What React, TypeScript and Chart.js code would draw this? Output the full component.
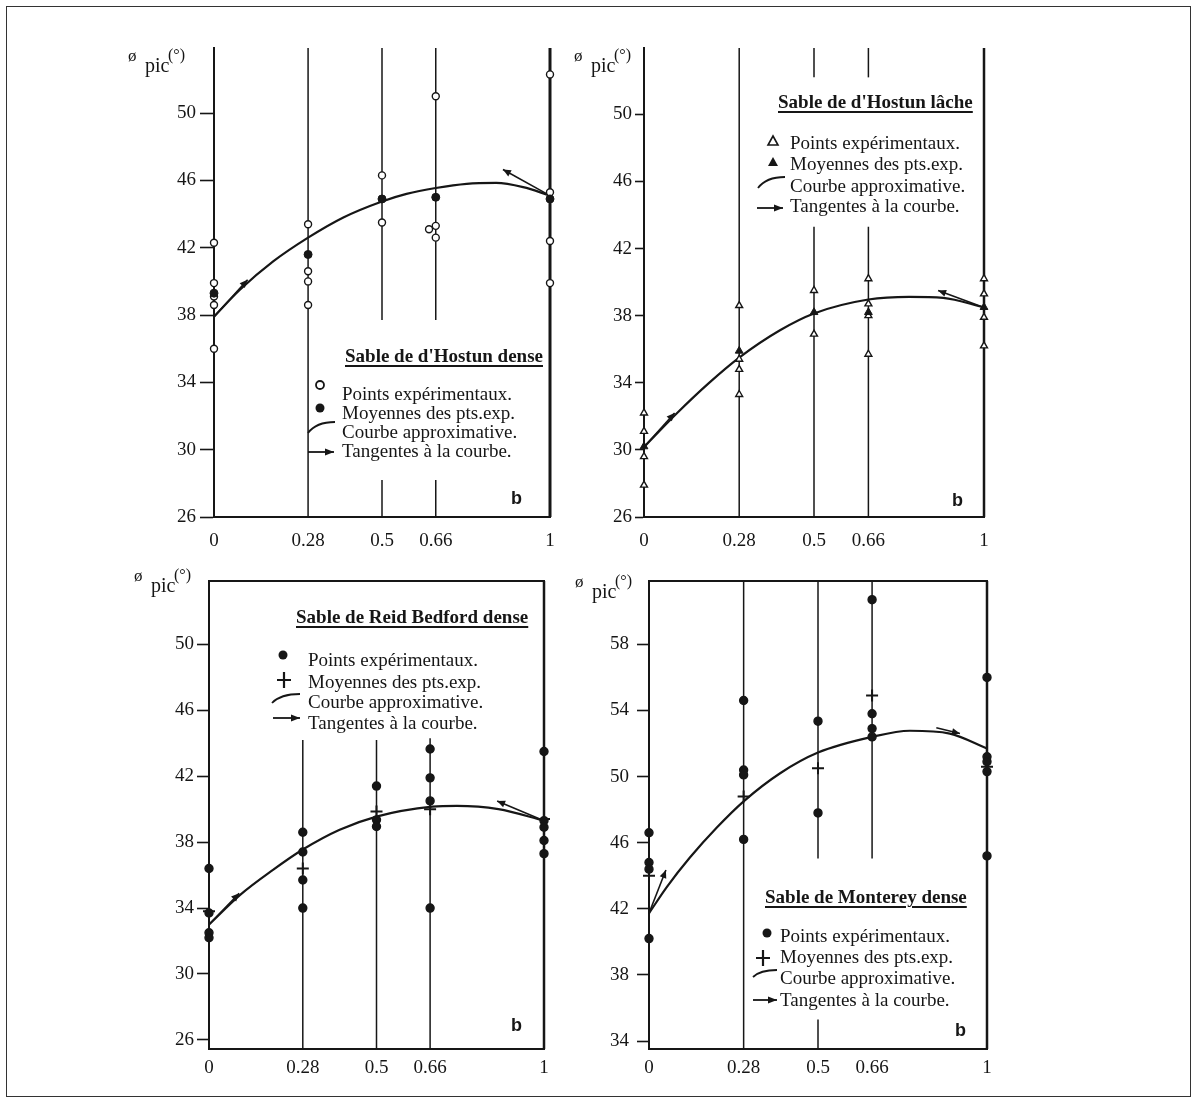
import React, { useEffect, useRef } from "react";
import { Chart, registerables } from "chart.js";

Chart.register(...registerables);

type Pt = { x: number; y: number };

// ---------- shared axis data ----------
const bTicks = [0, 0.28, 0.5, 0.66, 1];
const yTicks26 = [26, 30, 34, 38, 42, 46, 50];
const yTicks34 = [34, 38, 42, 46, 50, 54, 58];
const legendItems = [
  "Points expérimentaux.",
  "Moyennes des pts.exp.",
  "Courbe approximative.",
  "Tangentes à la courbe.",
];

// ---------- Panel 1 : Sable de d'Hostun dense ----------
const hdTitle = "Sable de d'Hostun dense";
const hdExp: Pt[] = [
  { x: 0, y: 42.3 }, { x: 0, y: 39.9 }, { x: 0, y: 39.1 }, { x: 0, y: 38.6 }, { x: 0, y: 36.0 },
  { x: 0.28, y: 43.4 }, { x: 0.28, y: 40.6 }, { x: 0.28, y: 40.0 }, { x: 0.28, y: 38.6 },
  { x: 0.5, y: 46.3 }, { x: 0.5, y: 43.5 },
  { x: 0.66, y: 51.0 }, { x: 0.64, y: 43.1 }, { x: 0.66, y: 43.3 }, { x: 0.66, y: 42.6 },
  { x: 1, y: 52.3 }, { x: 1, y: 45.3 }, { x: 1, y: 42.4 }, { x: 1, y: 39.9 },
];
const hdMean: Pt[] = [
  { x: 0, y: 39.3 }, { x: 0.28, y: 41.6 }, { x: 0.5, y: 44.9 }, { x: 0.66, y: 45.0 }, { x: 1, y: 44.9 },
];
const hdCurve: Pt[] = [
  { x: 0, y: 37.9 }, { x: 0.077, y: 39.5 }, { x: 0.177, y: 41.2 }, { x: 0.28, y: 42.6 },
  { x: 0.385, y: 43.8 }, { x: 0.5, y: 44.75 }, { x: 0.573, y: 45.2 }, { x: 0.66, y: 45.55 },
  { x: 0.752, y: 45.8 }, { x: 0.84, y: 45.85 }, { x: 0.92, y: 45.6 }, { x: 1, y: 45.1 },
];
const hdTangents: Pt[][] = [
  [{ x: 0, y: 37.9 }, { x: 0.1, y: 40.1 }],
  [{ x: 1, y: 45.1 }, { x: 0.86, y: 46.65 }],
];
// [b, from, to]
const hdGuides = [
  [0.28, 26, 53.87], [0.5, 37.7, 53.87], [0.5, 26, 28.2],
  [0.66, 37.7, 53.87], [0.66, 26, 28.2], [1, 26, 53.87],
];

// ---------- Panel 2 : Sable de d'Hostun lâche ----------
const hlTitle = "Sable de d'Hostun lâche";
const hlExp: Pt[] = [
  { x: 0, y: 32.2 }, { x: 0, y: 31.1 }, { x: 0, y: 29.6 }, { x: 0, y: 27.9 },
  { x: 0.28, y: 38.6 }, { x: 0.28, y: 35.4 }, { x: 0.28, y: 34.8 }, { x: 0.28, y: 33.3 },
  { x: 0.5, y: 39.5 }, { x: 0.5, y: 36.9 },
  { x: 0.66, y: 40.2 }, { x: 0.66, y: 38.7 }, { x: 0.66, y: 38.0 }, { x: 0.66, y: 35.7 },
  { x: 1, y: 40.2 }, { x: 1, y: 39.3 }, { x: 1, y: 37.9 }, { x: 1, y: 36.2 },
];
const hlMean: Pt[] = [
  { x: 0, y: 30.2 }, { x: 0.28, y: 35.9 }, { x: 0.5, y: 38.2 }, { x: 0.66, y: 38.2 }, { x: 1, y: 38.5 },
];
const hlCurve: Pt[] = [
  { x: 0, y: 30.17 }, { x: 0.096, y: 32.17 }, { x: 0.189, y: 33.95 }, { x: 0.28, y: 35.5 },
  { x: 0.4, y: 37.13 }, { x: 0.5, y: 38.13 }, { x: 0.66, y: 38.96 }, { x: 0.78, y: 39.12 },
  { x: 0.88, y: 39.06 }, { x: 1, y: 38.49 },
];
const hlTangents: Pt[][] = [
  [{ x: 0, y: 30.17 }, { x: 0.09, y: 32.2 }],
  [{ x: 1, y: 38.49 }, { x: 0.865, y: 39.5 }],
];
const hlGuides = [
  [0.28, 26, 53.95], [0.5, 52.2, 53.95], [0.5, 26, 43.3],
  [0.66, 52.2, 53.95], [0.66, 26, 43.3], [1, 26, 53.95],
];

// ---------- Panel 3 : Sable de Reid Bedford dense ----------
const rbTitle = "Sable de Reid Bedford dense";
const rbExp: Pt[] = [
  { x: 0, y: 36.4 }, { x: 0, y: 33.7 }, { x: 0, y: 32.5 }, { x: 0, y: 32.2 },
  { x: 0.28, y: 38.6 }, { x: 0.28, y: 37.4 }, { x: 0.28, y: 35.7 }, { x: 0.28, y: 34.0 },
  { x: 0.5, y: 41.4 }, { x: 0.5, y: 39.35 }, { x: 0.5, y: 38.95 },
  { x: 0.66, y: 43.65 }, { x: 0.66, y: 41.9 }, { x: 0.66, y: 40.5 }, { x: 0.66, y: 34.0 },
  { x: 1, y: 43.5 }, { x: 1, y: 39.3 }, { x: 1, y: 38.9 }, { x: 1, y: 38.1 }, { x: 1, y: 37.3 },
];
const rbMean: Pt[] = [
  { x: 0, y: 33.8 }, { x: 0.28, y: 36.4 }, { x: 0.5, y: 39.85 }, { x: 0.66, y: 40.0 }, { x: 1, y: 39.4 },
];
const rbCurve: Pt[] = [
  { x: 0, y: 33.0 }, { x: 0.093, y: 34.8 }, { x: 0.19, y: 36.3 }, { x: 0.28, y: 37.55 },
  { x: 0.39, y: 38.75 }, { x: 0.5, y: 39.55 }, { x: 0.667, y: 40.15 }, { x: 0.74, y: 40.2 },
  { x: 0.864, y: 40.0 }, { x: 1, y: 39.3 },
];
const rbTangents: Pt[][] = [
  [{ x: 0, y: 33.0 }, { x: 0.09, y: 34.9 }],
  [{ x: 1, y: 39.3 }, { x: 0.86, y: 40.5 }],
];
const rbGuides = [
  [0.28, 25.45, 44.2], [0.5, 25.45, 44.2], [0.66, 25.45, 44.3], [1, 25.45, 53.84],
];

// ---------- Panel 4 : Sable de Monterey dense ----------
const mdTitle = "Sable de Monterey dense";
const mdExp: Pt[] = [
  { x: 0, y: 46.6 }, { x: 0, y: 44.8 }, { x: 0, y: 44.4 }, { x: 0, y: 40.2 },
  { x: 0.28, y: 54.6 }, { x: 0.28, y: 50.4 }, { x: 0.28, y: 50.1 }, { x: 0.28, y: 46.2 },
  { x: 0.5, y: 53.35 }, { x: 0.5, y: 47.8 },
  { x: 0.66, y: 60.7 }, { x: 0.66, y: 53.8 }, { x: 0.66, y: 52.9 }, { x: 0.66, y: 52.4 },
  { x: 1, y: 56.0 }, { x: 1, y: 51.2 }, { x: 1, y: 50.9 }, { x: 1, y: 50.3 }, { x: 1, y: 45.2 },
];
const mdMean: Pt[] = [
  { x: 0, y: 44.0 }, { x: 0.28, y: 48.8 }, { x: 0.5, y: 50.5 }, { x: 0.66, y: 54.9 }, { x: 1, y: 50.6 },
];
const mdCurve: Pt[] = [
  { x: 0, y: 41.73 }, { x: 0.052, y: 43.3 }, { x: 0.121, y: 45.1 }, { x: 0.2, y: 46.9 },
  { x: 0.28, y: 48.5 }, { x: 0.388, y: 50.2 }, { x: 0.5, y: 51.45 }, { x: 0.66, y: 52.4 },
  { x: 0.772, y: 52.77 }, { x: 0.89, y: 52.6 }, { x: 1, y: 51.7 },
];
const mdTangents: Pt[][] = [
  [{ x: 0, y: 41.73 }, { x: 0.05, y: 44.35 }],
  [{ x: 0.85, y: 52.95 }, { x: 0.92, y: 52.6 }],
];
const mdGuides = [
  [0.28, 33.52, 61.83], [0.5, 45.05, 61.83], [0.5, 33.52, 35.3], [0.66, 45.05, 61.83], [1, 33.52, 61.83],
];

// ---------- styling ----------
const INK = "#161616";
const SERIF = "'Liberation Serif', 'Times New Roman', serif";

type Sym =
  | { kind: "openCircle" | "dot" | "openTri" | "fillTri" | "plus"; x: number; y: number }
  | { kind: "curve" | "arrow"; x1: number; y1: number; x2: number; y2: number };

interface PanelProps {
  area: { L: number; T: number; R: number; B: number };
  yMin: number;
  yMax: number;
  yTicks: number[];
  tickLen: number;
  tickPad: number;
  xPad: number;
  frameTop: boolean;
  exp: Pt[];
  mean: Pt[];
  curve: Pt[];
  tangents: Pt[][];
  guides: number[][];
  expStyle: string;
  expFill: string;
  expRadius: number;
  meanStyle: string;
  meanFill: string;
  meanRadius: number;
  meanBorder: number;
  rightWidth: number;
  legend: Sym[];
}

function drawHead(ctx: CanvasRenderingContext2D, x: number, y: number, ang: number, len: number, half: number) {
  ctx.save();
  ctx.translate(x, y);
  ctx.rotate(ang);
  ctx.beginPath();
  ctx.moveTo(0, 0);
  ctx.lineTo(-len, -half);
  ctx.lineTo(-len, half);
  ctx.closePath();
  ctx.fillStyle = INK;
  ctx.fill();
  ctx.restore();
}

function Panel(p: PanelProps) {
  const ref = useRef<HTMLCanvasElement>(null);
  const padL = 90, padT = 20, padR = 20, padB = 50;
  const left = p.area.L - padL;
  const top = p.area.T - padT;
  const width = p.area.R - p.area.L + padL + padR;
  const height = p.area.B - p.area.T + padT + padB;

  useEffect(() => {
    if (!ref.current) return;
    const datasets: any[] = [];
    datasets.push({
      data: p.mean, showLine: false, pointStyle: p.meanStyle, pointRadius: p.meanRadius,
      backgroundColor: p.meanFill, borderColor: INK, borderWidth: p.meanBorder, clip: false,
    });
    datasets.push({
      data: p.exp, showLine: false, pointStyle: p.expStyle, pointRadius: p.expRadius,
      backgroundColor: p.expFill, borderColor: INK, borderWidth: 1.4, clip: false,
    });
    datasets.push({
      data: p.curve, showLine: true, cubicInterpolationMode: "monotone", pointRadius: 0,
      borderColor: INK, borderWidth: 2.2, clip: false,
    });
    p.tangents.forEach((t) =>
      datasets.push({
        data: t, showLine: true, pointRadius: 0, borderColor: INK, borderWidth: 1.6, clip: false, isTangent: true,
      })
    );
    p.guides.forEach((g) =>
      datasets.push({
        data: [{ x: g[0], y: g[1] }, { x: g[0], y: g[2] }], showLine: true, pointRadius: 0,
        borderColor: INK, borderWidth: g[0] === 1 ? p.rightWidth : 1.5, clip: false,
      })
    );

    const scales: any = {
      x: {
        type: "linear", min: 0, max: 1, position: "bottom",
        afterBuildTicks: (s: any) => { s.ticks = bTicks.map((v) => ({ value: v })); },
        afterFit: (s: any) => { s.height = padB; },
        grid: { display: true, drawOnChartArea: false, drawTicks: false, color: INK },
        border: { display: true, color: INK, width: 2 },
        ticks: {
          color: INK, font: { family: SERIF, size: 19 }, padding: p.xPad,
          maxRotation: 0, autoSkip: false, callback: (v: any) => String(v),
        },
      },
      y: {
        type: "linear", min: p.yMin, max: p.yMax, position: "left",
        afterBuildTicks: (s: any) => { s.ticks = p.yTicks.map((v) => ({ value: v })); },
        afterFit: (s: any) => { s.width = padL; },
        grid: {
          display: true, drawOnChartArea: false, drawTicks: true, tickLength: p.tickLen,
          tickWidth: 1.6, tickColor: INK, color: INK,
        },
        border: { display: true, color: INK, width: 2 },
        ticks: { color: INK, font: { family: SERIF, size: 19 }, padding: p.tickPad, callback: (v: any) => String(v) },
      },
    };
    if (p.frameTop) {
      scales.xTop = {
        type: "linear", min: 0, max: 1, position: "top",
        afterFit: (s: any) => { s.height = 0; },
        ticks: { display: false },
        grid: { display: true, drawOnChartArea: false, drawTicks: false, color: INK },
        border: { display: true, color: INK, width: 2 },
      };
    }

    const arrowPlugin = {
      id: "arrowHeads",
      afterDatasetsDraw(chart: any) {
        const ctx = chart.ctx as CanvasRenderingContext2D;
        chart.data.datasets.forEach((ds: any, i: number) => {
          if (!ds.isTangent) return;
          const pts = chart.getDatasetMeta(i).data;
          const a = pts[0], b = pts[1];
          drawHead(ctx, b.x, b.y, Math.atan2(b.y - a.y, b.x - a.x), 8, 3.5);
        });
      },
    };

    const legendPlugin = {
      id: "legendSymbols",
      afterDraw(chart: any) {
        const ctx = chart.ctx as CanvasRenderingContext2D;
        ctx.save();
        ctx.strokeStyle = INK;
        ctx.fillStyle = INK;
        p.legend.forEach((s: any) => {
          if (s.kind === "openCircle" || s.kind === "dot") {
            ctx.beginPath();
            ctx.arc(s.x - left, s.y - top, s.kind === "dot" ? 4.5 : 4, 0, Math.PI * 2);
            ctx.lineWidth = 1.8;
            if (s.kind === "dot") ctx.fill();
            else ctx.stroke();
          } else if (s.kind === "openTri" || s.kind === "fillTri") {
            const x = s.x - left, y = s.y - top;
            ctx.beginPath();
            ctx.moveTo(x, y - 5);
            ctx.lineTo(x + 5, y + 4);
            ctx.lineTo(x - 5, y + 4);
            ctx.closePath();
            ctx.lineWidth = 1.6;
            if (s.kind === "fillTri") ctx.fill();
            else ctx.stroke();
          } else if (s.kind === "plus") {
            const x = s.x - left, y = s.y - top;
            ctx.lineWidth = 2.2;
            ctx.beginPath();
            ctx.moveTo(x - 7, y);
            ctx.lineTo(x + 7, y);
            ctx.moveTo(x, y - 8);
            ctx.lineTo(x, y + 8);
            ctx.stroke();
          } else if (s.kind === "curve") {
            const x1 = s.x1 - left, y1 = s.y1 - top, x2 = s.x2 - left, y2 = s.y2 - top;
            ctx.lineWidth = 1.8;
            ctx.beginPath();
            ctx.moveTo(x1, y1);
            ctx.quadraticCurveTo(x1 + (x2 - x1) * 0.3, y2, x2, y2);
            ctx.stroke();
          } else if (s.kind === "arrow") {
            const x1 = s.x1 - left, y1 = s.y1 - top, x2 = s.x2 - left, y2 = s.y2 - top;
            ctx.lineWidth = 1.8;
            ctx.beginPath();
            ctx.moveTo(x1, y1);
            ctx.lineTo(x2, y2);
            ctx.stroke();
            drawHead(ctx, x2, y2, Math.atan2(y2 - y1, x2 - x1), 9, 3.5);
          }
        });
        ctx.restore();
      },
    };

    const chart = new Chart(ref.current, {
      type: "scatter",
      data: { datasets },
      options: {
        animation: false,
        responsive: false,
        devicePixelRatio: 1,
        layout: { padding: { left: 0, top: padT, right: padR, bottom: 0 } },
        plugins: { legend: { display: false }, tooltip: { enabled: false } },
        scales,
      } as any,
      plugins: [arrowPlugin, legendPlugin],
    });
    return () => chart.destroy();
  }, []);

  return (
    <canvas
      ref={ref}
      width={width}
      height={height}
      style={{ position: "absolute", left, top, width, height }}
    />
  );
}

function Txt(props: { x: number; cy: number; text: string; size?: number; bold?: boolean; underline?: boolean; family?: string }) {
  const size = props.size ?? 18;
  return (
    <div
      style={{
        position: "absolute",
        left: props.x,
        top: props.cy - size * 0.62,
        fontFamily: props.family ?? SERIF,
        fontSize: size,
        lineHeight: `${size * 1.15}px`,
        fontWeight: props.bold ? 700 : 400,
        textDecoration: props.underline ? "underline" : "none",
        textDecorationThickness: props.underline ? "1.5px" : undefined,
        textUnderlineOffset: props.underline ? "3px" : undefined,
        color: INK,
        whiteSpace: "nowrap",
      }}
    >
      {props.text}
    </div>
  );
}

function PhiLabel(props: { dx: number; dy: number }) {
  const base = { position: "absolute" as const, fontFamily: SERIF, color: INK, lineHeight: 1, whiteSpace: "nowrap" as const };
  return (
    <>
      <span style={{ ...base, left: 128 + props.dx, top: 47 + props.dy, fontSize: 17 }}>ø</span>
      <span style={{ ...base, left: 145 + props.dx, top: 55 + props.dy, fontSize: 20 }}>pic</span>
      <span style={{ ...base, left: 168 + props.dx, top: 47 + props.dy, fontSize: 16 }}>(°)</span>
    </>
  );
}

function Legend(props: { title: string; tx: number; ty: number; lx: number; rows: number[] }) {
  return (
    <>
      <Txt x={props.tx} cy={props.ty} text={props.title} bold underline size={19} />
      {legendItems.map((t, i) => (
        <Txt key={i} x={props.lx} cy={props.rows[i]} text={t} size={19} />
      ))}
    </>
  );
}

export default function App() {
  return (
    <div
      style={{
        position: "absolute", left: 0, top: 0, width: 1194, height: 1107,
        background: "#ffffff", overflow: "hidden",
      }}
    >
      <div
        style={{
          position: "absolute", left: 6, top: 6, width: 1183, height: 1089,
          border: "1.6px solid #333",
        }}
      />
      <Panel
        area={{ L: 214, T: 48, R: 550, B: 517 }}
        yMin={26} yMax={53.87} yTicks={yTicks26}
        tickLen={14} tickPad={4} xPad={13} frameTop={false}
        exp={hdExp} mean={hdMean} curve={hdCurve} tangents={hdTangents} guides={hdGuides}
        expStyle="circle" expFill="#ffffff" expRadius={3.5}
        meanStyle="circle" meanFill={INK} meanRadius={4} meanBorder={1}
        rightWidth={3}
        legend={[
          { kind: "openCircle", x: 320, y: 385 },
          { kind: "dot", x: 320, y: 408 },
          { kind: "curve", x1: 308, y1: 433, x2: 335, y2: 422 },
          { kind: "arrow", x1: 308, y1: 452, x2: 334, y2: 452 },
        ]}
      />
      <Panel
        area={{ L: 644, T: 48, R: 984, B: 517 }}
        yMin={26} yMax={53.95} yTicks={yTicks26}
        tickLen={9} tickPad={3} xPad={13} frameTop={false}
        exp={hlExp} mean={hlMean} curve={hlCurve} tangents={hlTangents} guides={hlGuides}
        expStyle="triangle" expFill="#ffffff" expRadius={4}
        meanStyle="triangle" meanFill={INK} meanRadius={4.5} meanBorder={1}
        rightWidth={2.5}
        legend={[
          { kind: "openTri", x: 773, y: 141 },
          { kind: "fillTri", x: 773, y: 162 },
          { kind: "curve", x1: 758, y1: 188, x2: 785, y2: 177 },
          { kind: "arrow", x1: 757, y1: 208, x2: 783, y2: 208 },
        ]}
      />
      <Panel
        area={{ L: 209, T: 581, R: 544, B: 1049 }}
        yMin={25.45} yMax={53.84} yTicks={yTicks26}
        tickLen={12} tickPad={3} xPad={8} frameTop={true}
        exp={rbExp} mean={rbMean} curve={rbCurve} tangents={rbTangents} guides={rbGuides}
        expStyle="circle" expFill={INK} expRadius={4}
        meanStyle="cross" meanFill={INK} meanRadius={6} meanBorder={2}
        rightWidth={2.5}
        legend={[
          { kind: "dot", x: 283, y: 655 },
          { kind: "plus", x: 284, y: 680 },
          { kind: "curve", x1: 272, y1: 703, x2: 300, y2: 694 },
          { kind: "arrow", x1: 273, y1: 718, x2: 300, y2: 718 },
        ]}
      />
      <Panel
        area={{ L: 649, T: 581, R: 987, B: 1049 }}
        yMin={33.52} yMax={61.83} yTicks={yTicks34}
        tickLen={12} tickPad={8} xPad={8} frameTop={true}
        exp={mdExp} mean={mdMean} curve={mdCurve} tangents={mdTangents} guides={mdGuides}
        expStyle="circle" expFill={INK} expRadius={4}
        meanStyle="cross" meanFill={INK} meanRadius={6} meanBorder={2}
        rightWidth={2.5}
        legend={[
          { kind: "dot", x: 767, y: 933 },
          { kind: "plus", x: 763, y: 958 },
          { kind: "curve", x1: 753, y1: 977, x2: 777, y2: 970 },
          { kind: "arrow", x1: 753, y1: 1000, x2: 777, y2: 1000 },
        ]}
      />

      <PhiLabel dx={0} dy={0} />
      <PhiLabel dx={446} dy={0} />
      <PhiLabel dx={6} dy={520} />
      <PhiLabel dx={447} dy={526} />

      <Legend title={hdTitle} tx={345} ty={357} lx={342} rows={[395, 414, 433, 452]} />
      <Legend title={hlTitle} tx={778} ty={103} lx={790} rows={[144, 165, 187, 207]} />
      <Legend title={rbTitle} tx={296} ty={618} lx={308} rows={[661, 683, 703, 724]} />
      <Legend title={mdTitle} tx={765} ty={898} lx={780} rows={[937, 958, 979, 1001]} />

      <Txt x={511} cy={499} text="b" size={18} bold family="'Liberation Sans', Arial, sans-serif" />
      <Txt x={952} cy={501} text="b" size={18} bold family="'Liberation Sans', Arial, sans-serif" />
      <Txt x={511} cy={1026} text="b" size={18} bold family="'Liberation Sans', Arial, sans-serif" />
      <Txt x={955} cy={1031} text="b" size={18} bold family="'Liberation Sans', Arial, sans-serif" />
    </div>
  );
}
